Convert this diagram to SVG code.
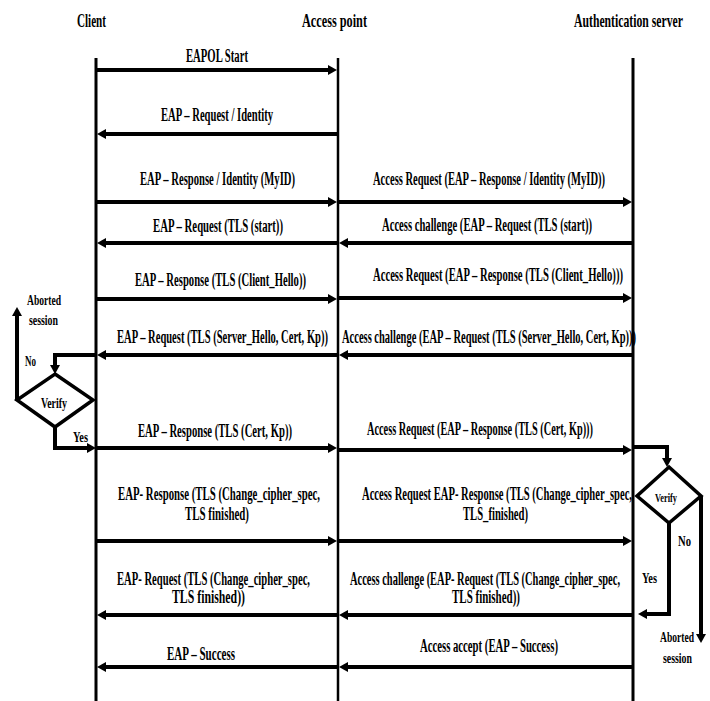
<svg xmlns="http://www.w3.org/2000/svg" width="710" height="701" viewBox="0 0 710 701">
<style>
text{font-family:"Liberation Serif","DejaVu Serif","Times New Roman",serif;font-weight:bold;fill:#000}
.h{font-size:19px}
.m{font-size:18px}
.s{font-size:15px}
.life{stroke:#000;stroke-width:3}
.msg{stroke:#000;stroke-width:4;fill:none;marker-end:url(#ah)}
.dia{stroke:#000;stroke-width:3.5;fill:#fff;stroke-linejoin:miter}
</style>
<defs>
<marker id="ah" viewBox="0 0 9 10" markerWidth="9" markerHeight="10" refX="0" refY="5" orient="auto" markerUnits="userSpaceOnUse">
<path d="M0,0 L9,5 L0,10 z" fill="#000"/>
</marker>
</defs>
<rect width="710" height="701" fill="#fff"/>

<g id="client">
<text class="h" x="77" y="27" textLength="29" lengthAdjust="spacingAndGlyphs">Client</text>
<line class="life" x1="96" y1="58" x2="96" y2="701"/>
</g>
<g id="access-point">
<text class="h" x="302" y="27" textLength="65" lengthAdjust="spacingAndGlyphs">Access point</text>
<line class="life" x1="338" y1="58" x2="338" y2="701" style="stroke-width:2.5"/>
</g>
<g id="auth-server">
<text class="h" x="574" y="27" textLength="109" lengthAdjust="spacingAndGlyphs">Authentication server</text>
<line class="life" x1="633" y1="58" x2="633" y2="701"/>
</g>

<g id="verify-client">
<polygon class="dia" points="55,374 93,400 55,427 17,400"/>
<text class="s" x="41" y="408" textLength="26" lengthAdjust="spacingAndGlyphs">Verify</text>
</g>
<g id="verify-server">
<polygon class="dia" points="669,467 701,496 669,523 637,496"/>
<text class="s" x="655" y="502" textLength="22" lengthAdjust="spacingAndGlyphs" style="font-size:13px">Verify</text>
</g>
<g id="aborted-client">
<text class="s" x="27" y="305" textLength="34" lengthAdjust="spacingAndGlyphs">Aborted</text>
<text class="s" x="29" y="325" textLength="29" lengthAdjust="spacingAndGlyphs">session</text>
</g>
<g id="aborted-server">
<text class="s" x="660" y="642" textLength="34" lengthAdjust="spacingAndGlyphs">Aborted</text>
<text class="s" x="663" y="663" textLength="29" lengthAdjust="spacingAndGlyphs">session</text>
</g>

<g id="connectors">
<line class="msg" x1="96" y1="70" x2="328" y2="70"/>
<line class="msg" x1="338" y1="134" x2="106" y2="134"/>
<line class="msg" x1="96" y1="202" x2="328" y2="202"/>
<line class="msg" x1="338" y1="202" x2="623" y2="202"/>
<line class="msg" x1="633" y1="243" x2="348" y2="243"/>
<line class="msg" x1="338" y1="243" x2="106" y2="243"/>
<line class="msg" x1="96" y1="299" x2="328" y2="299"/>
<line class="msg" x1="338" y1="298" x2="623" y2="298"/>
<line class="msg" x1="633" y1="355" x2="348" y2="355"/>
<line class="msg" x1="338" y1="355" x2="106" y2="355"/>
<path class="msg" d="M96,355 H55 V365"/>
<path class="msg" d="M17,400 V316"/>
<path class="msg" d="M55,427 V448 H87"/>
<line class="msg" x1="96" y1="448" x2="328" y2="448"/>
<line class="msg" x1="338" y1="450" x2="623" y2="450"/>
<path class="msg" d="M633,447 H667 V458"/>
<path class="msg" d="M701,496 V634"/>
<path class="msg" d="M669,523 V614 H647"/>
<line class="msg" x1="96" y1="541" x2="328" y2="541"/>
<line class="msg" x1="338" y1="541" x2="623" y2="541"/>
<line class="msg" x1="633" y1="615" x2="348" y2="615"/>
<line class="msg" x1="338" y1="615" x2="106" y2="615"/>
<line class="msg" x1="633" y1="667" x2="348" y2="667"/>
<line class="msg" x1="338" y1="667" x2="106" y2="667"/>
</g>

<g id="labels">
<text class="m" x="186" y="62" textLength="62" lengthAdjust="spacingAndGlyphs">EAPOL Start</text>
<text class="m" x="161" y="121" textLength="112" lengthAdjust="spacingAndGlyphs">EAP – Request / Identity</text>
<text class="m" x="140" y="185" textLength="155" lengthAdjust="spacingAndGlyphs">EAP – Response / Identity (MyID)</text>
<text class="m" x="373" y="185" textLength="232" lengthAdjust="spacingAndGlyphs">Access Request (EAP – Response / Identity (MyID))</text>
<text class="m" x="153" y="232" textLength="130" lengthAdjust="spacingAndGlyphs">EAP – Request (TLS (start))</text>
<text class="m" x="382" y="231" textLength="210" lengthAdjust="spacingAndGlyphs">Access challenge (EAP – Request (TLS (start))</text>
<text class="m" x="135" y="286" textLength="171" lengthAdjust="spacingAndGlyphs">EAP – Response (TLS (Client_Hello))</text>
<text class="m" x="373" y="281" textLength="250" lengthAdjust="spacingAndGlyphs">Access Request (EAP – Response (TLS (Client_Hello)))</text>
<text class="m" x="117" y="343" textLength="211" lengthAdjust="spacingAndGlyphs">EAP – Request (TLS (Server_Hello, Cert, Kp))</text>
<text class="m" x="342" y="343" textLength="294" lengthAdjust="spacingAndGlyphs">Access challenge (EAP – Request (TLS (Server_Hello, Cert, Kp)))</text>
<text class="m" x="138" y="437" textLength="154" lengthAdjust="spacingAndGlyphs">EAP – Response (TLS (Cert, Kp))</text>
<text class="m" x="367" y="435" textLength="226" lengthAdjust="spacingAndGlyphs">Access Request (EAP – Response (TLS (Cert, Kp)))</text>
<text class="m" x="118" y="500" textLength="202" lengthAdjust="spacingAndGlyphs">EAP- Response (TLS (Change_cipher_spec,</text>
<text class="m" x="185" y="520" textLength="64" lengthAdjust="spacingAndGlyphs">TLS finished)</text>
<text class="m" x="362" y="500" textLength="270" lengthAdjust="spacingAndGlyphs">Access Request EAP- Response (TLS (Change_cipher_spec,</text>
<text class="m" x="463" y="520" textLength="65" lengthAdjust="spacingAndGlyphs">TLS_finished)</text>
<text class="m" x="117" y="585" textLength="193" lengthAdjust="spacingAndGlyphs">EAP- Request (TLS (Change_cipher_spec,</text>
<text class="m" x="172" y="603" textLength="73" lengthAdjust="spacingAndGlyphs">TLS finished))</text>
<text class="m" x="350" y="585" textLength="270" lengthAdjust="spacingAndGlyphs">Access challenge (EAP- Request (TLS (Change_cipher_spec,</text>
<text class="m" x="452" y="603" textLength="68" lengthAdjust="spacingAndGlyphs">TLS finished))</text>
<text class="m" x="167" y="660" textLength="68" lengthAdjust="spacingAndGlyphs">EAP – Success</text>
<text class="m" x="420" y="652" textLength="138" lengthAdjust="spacingAndGlyphs">Access accept (EAP – Success)</text>
<text class="s" x="25" y="366" textLength="11" lengthAdjust="spacingAndGlyphs">No</text>
<text class="s" x="73" y="442" textLength="15" lengthAdjust="spacingAndGlyphs">Yes</text>
<text class="s" x="678" y="546" textLength="13" lengthAdjust="spacingAndGlyphs">No</text>
<text class="s" x="642" y="583" textLength="15" lengthAdjust="spacingAndGlyphs">Yes</text>
</g>
</svg>
